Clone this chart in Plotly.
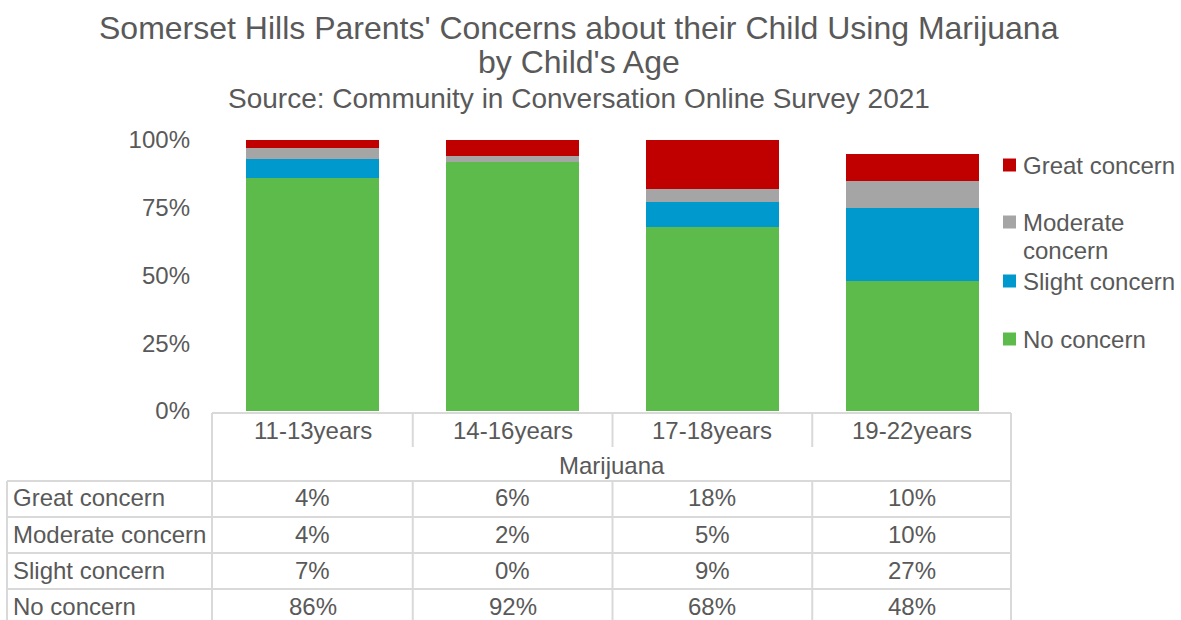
import plotly.graph_objects as go

categories = ["11-13years", "14-16years", "17-18years", "19-22years"]
series_names = ["No concern", "Slight concern", "Moderate concern", "Great concern"]
no_concern = [86, 92, 68, 48]
slight_concern = [7, 0, 9, 27]
moderate_concern = [4, 2, 5, 10]
great_concern = [4, 6, 18, 10]
tick_labels = ["0%", "25%", "50%", "75%", "100%"]
tick_values = [0, 25, 50, 75, 100]
table_rows = ["Great concern", "Moderate concern", "Slight concern", "No concern"]
group_label = "Marijuana"

colors = {
    "No concern": "#5CBB4A",
    "Slight concern": "#0099CE",
    "Moderate concern": "#A5A5A5",
    "Great concern": "#C00000",
}
values = {
    "No concern": no_concern,
    "Slight concern": slight_concern,
    "Moderate concern": moderate_concern,
    "Great concern": great_concern,
}

W, H = 1181, 620
L, R, T, B = 213, 1012, 140, 411
TXT = "#595959"
GRID = "#D9D9D9"
FONT = "Liberation Sans, Arial, sans-serif"
FS = 24


def px(x):
    return (x - L) / (R - L)


def py(y):
    return (B - y) / (B - T)


fig = go.Figure()
for name in series_names:
    fig.add_trace(go.Bar(
        x=list(range(len(categories))), y=values[name], name=name,
        marker=dict(color=colors[name], line=dict(width=0)),
        showlegend=False,
    ))

shapes = []
annotations = []


def hline(y, x0, x1, xref="paper"):
    shapes.append(dict(type="line", xref=xref, yref="paper", x0=x0, x1=x1,
                       y0=py(y), y1=py(y), line=dict(color=GRID, width=2)))


def vline(x, y0, y1, xref="paper"):
    shapes.append(dict(type="line", xref=xref, yref="paper", x0=x, x1=x,
                       y0=py(y0), y1=py(y1), line=dict(color=GRID, width=2)))


row_lines = [481, 517, 553, 589]
bottom = 630
hline(413, px(212), px(1011))
for y in row_lines:
    hline(y, px(7), px(1011))
vline(px(7), 481, bottom)
vline(px(212), 413, bottom)
vline(px(1011), 413, bottom)
for i in range(1, len(categories)):
    vline(i - 0.5, 413, 447, xref="x")
    vline(i - 0.5, 481, bottom, xref="x")

# category header
for i, c in enumerate(categories):
    annotations.append(dict(x=i, y=py(431), xref="x", yref="paper", text=c,
                            showarrow=False, font=dict(size=FS, color=TXT),
                            xanchor="center", yanchor="middle"))
annotations.append(dict(x=px(612), y=py(465), xref="paper", yref="paper",
                        text=group_label, showarrow=False,
                        font=dict(size=FS, color=TXT), xanchor="center", yanchor="middle"))

row_centers = [498, 534, 570, 606]
for r, (name, yc) in enumerate(zip(table_rows, row_centers)):
    annotations.append(dict(x=px(11), y=py(yc), xref="paper", yref="paper", text=name,
                            showarrow=False, font=dict(size=FS, color=TXT),
                            xanchor="left", yanchor="middle"))
    for i in range(len(categories)):
        annotations.append(dict(x=i, y=py(yc), xref="x", yref="paper",
                                text=f"{values[name][i]}%", showarrow=False,
                                font=dict(size=FS, color=TXT),
                                xanchor="center", yanchor="middle"))

# legend
legend_items = [("Great concern", [165]), ("Moderate concern", [222, 250]),
                ("Slight concern", [281]), ("No concern", [339])]
for name, ys in legend_items:
    shapes.append(dict(type="rect", xref="paper", yref="paper",
                       x0=px(1003), x1=px(1016), y0=py(ys[0] - 6.5), y1=py(ys[0] + 6.5),
                       fillcolor=colors[name], line=dict(width=0)))
    words = name.split(" ") if len(ys) > 1 else [name]
    for w, yy in zip(words, ys):
        annotations.append(dict(x=px(1021), y=py(yy), xref="paper", yref="paper", text=w,
                                showarrow=False, font=dict(size=FS, color=TXT),
                                xanchor="left", yanchor="middle"))

# titles
annotations.append(dict(x=px(579), y=py(28), xref="paper", yref="paper",
                        text="Somerset Hills Parents' Concerns about their Child Using Marijuana",
                        showarrow=False, font=dict(size=32, color=TXT),
                        xanchor="center", yanchor="middle"))
annotations.append(dict(x=px(579), y=py(62), xref="paper", yref="paper",
                        text="by Child's Age", showarrow=False, font=dict(size=32, color=TXT),
                        xanchor="center", yanchor="middle"))
annotations.append(dict(x=px(579), y=py(98), xref="paper", yref="paper",
                        text="Source: Community in Conversation Online Survey 2021",
                        showarrow=False, font=dict(size=28, color=TXT),
                        xanchor="center", yanchor="middle"))

fig.update_layout(
    width=W, height=H,
    margin=dict(l=L, r=W - R, t=T, b=H - B, pad=0),
    barmode="stack", bargap=0.335,
    plot_bgcolor="white", paper_bgcolor="white",
    font=dict(family=FONT, color=TXT, size=FS),
    showlegend=False,
    shapes=shapes, annotations=annotations,
    xaxis=dict(range=[-0.5, len(categories) - 0.5], showticklabels=False,
               showgrid=False, zeroline=False, showline=False, ticks="",
               fixedrange=True),
    yaxis=dict(range=[0, 100], tickvals=tick_values, ticktext=tick_labels,
               showgrid=False, zeroline=False, showline=False, ticks="",
               ticklabelstandoff=22, tickfont=dict(size=FS, color=TXT),
               fixedrange=True),
)

fig.write_html("out.html", config={"displayModeBar": False})
